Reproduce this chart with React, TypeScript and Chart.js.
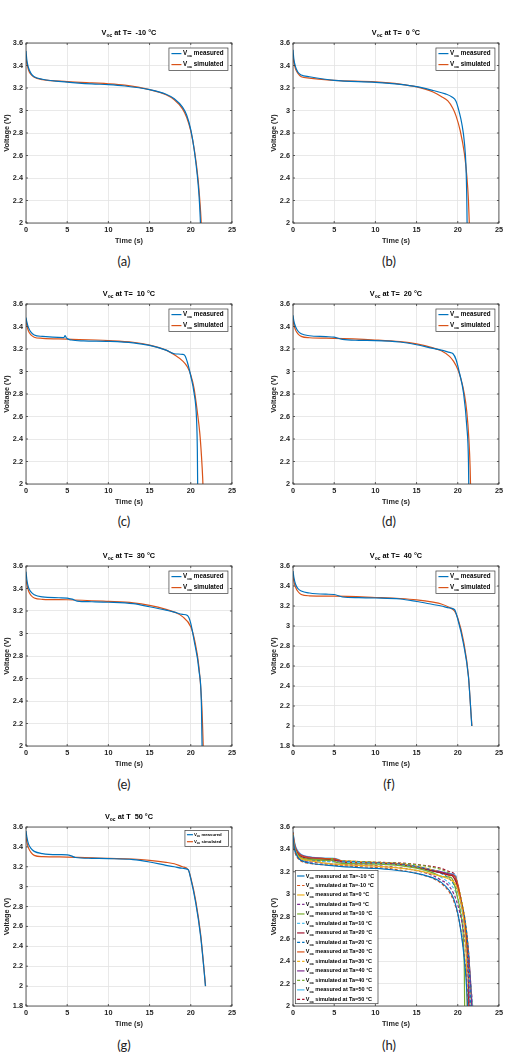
import React, { useEffect, useRef } from "react";
import { Chart, registerables } from "chart.js";

Chart.register(...registerables);

// ---- axis ticks ----
const timeTicks = [0, 5, 10, 15, 20, 25];
const voltTicks = [2, 2.2, 2.4, 2.6, 2.8, 3, 3.2, 3.4, 3.6];
const voltTicksLow = [1.8, 2, 2.2, 2.4, 2.6, 2.8, 3, 3.2, 3.4, 3.6];

// ---- T = -10 °C ----
const tMeasM10 = [0, 0.1, 0.3, 0.6, 1, 2, 5, 8, 10, 12, 15, 17, 18, 19, 19.5, 20, 20.4, 20.8, 21.0, 21.15, 21.25];
const vMeasM10 = [3.53, 3.45, 3.38, 3.33, 3.30, 3.278, 3.252, 3.236, 3.230, 3.218, 3.185, 3.145, 3.105, 3.03, 2.96, 2.83, 2.66, 2.42, 2.25, 2.05, 1.85];
const tSimM10 = [0, 0.1, 0.3, 0.6, 1, 2, 5, 8, 10, 12, 15, 17, 18, 19, 19.5, 20, 20.5, 20.9, 21.1, 21.25, 21.35];
const vSimM10 = [3.46, 3.42, 3.36, 3.32, 3.295, 3.275, 3.257, 3.245, 3.238, 3.225, 3.185, 3.14, 3.095, 3.015, 2.94, 2.82, 2.62, 2.38, 2.2, 2.03, 1.85];

// ---- T = 0 °C ----
const tMeas0 = [0, 0.1, 0.3, 0.6, 1, 2, 5, 10, 13, 15, 17, 18.5, 19.3, 19.8, 20.2, 20.5, 20.8, 21.0, 21.1, 21.15];
const vMeas0 = [3.54, 3.46, 3.39, 3.34, 3.315, 3.30, 3.268, 3.25, 3.232, 3.212, 3.178, 3.148, 3.12, 3.08, 2.98, 2.88, 2.72, 2.5, 2.2, 1.9];
const tSim0 = [0, 0.1, 0.3, 0.6, 1, 2, 5, 10, 13, 15, 17, 18, 18.8, 19.4, 19.8, 20.3, 20.8, 21.1, 21.3, 21.45];
const vSim0 = [3.47, 3.43, 3.37, 3.33, 3.30, 3.288, 3.268, 3.255, 3.235, 3.21, 3.165, 3.125, 3.085, 3.02, 2.95, 2.82, 2.62, 2.42, 2.2, 1.9];

// ---- T = 10 °C ----
const tMeas10 = [0, 0.1, 0.3, 0.6, 1, 2, 4.6, 4.75, 4.9, 5.5, 7, 10, 13, 15, 17, 18, 19, 19.3, 19.6, 20, 20.4, 20.7, 20.8, 20.85];
const vMeas10 = [3.48, 3.44, 3.39, 3.35, 3.325, 3.312, 3.302, 3.32, 3.298, 3.28, 3.272, 3.268, 3.255, 3.232, 3.19, 3.158, 3.152, 3.14, 3.08, 2.96, 2.81, 2.58, 2.3, 1.9];
const tSim10 = [0, 0.1, 0.3, 0.6, 1, 2, 5, 10, 13, 15, 17, 18, 19, 19.6, 20, 20.4, 20.8, 21.1, 21.3, 21.45, 21.55];
const vSim10 = [3.45, 3.41, 3.36, 3.325, 3.305, 3.295, 3.288, 3.275, 3.26, 3.235, 3.19, 3.15, 3.095, 3.04, 2.97, 2.85, 2.64, 2.45, 2.25, 2.05, 1.85];

// ---- T = 20 °C ----
const tMeas20 = [0, 0.1, 0.3, 0.6, 1, 2, 4, 5, 6, 8, 10, 13, 15, 17, 18, 19, 19.4, 19.8, 20.2, 20.7, 21.1, 21.3, 21.35];
const vMeas20 = [3.50, 3.45, 3.40, 3.36, 3.335, 3.318, 3.31, 3.305, 3.285, 3.277, 3.275, 3.262, 3.238, 3.205, 3.19, 3.17, 3.16, 3.105, 2.99, 2.81, 2.51, 2.2, 1.9];
const tSim20 = [0, 0.1, 0.3, 0.6, 1, 2, 5, 10, 13, 15, 17, 18, 19, 19.5, 20, 20.4, 20.8, 21.1, 21.35, 21.5, 21.58];
const vSim20 = [3.46, 3.42, 3.37, 3.335, 3.312, 3.30, 3.295, 3.28, 3.265, 3.245, 3.21, 3.185, 3.135, 3.09, 3.02, 2.93, 2.80, 2.64, 2.4, 2.15, 1.9];

// ---- T = 30 °C ----
const tMeas30 = [0, 0.1, 0.3, 0.6, 1, 2, 4, 5, 5.6, 6.2, 8, 10, 13, 15, 17, 18, 19, 19.6, 20, 20.4, 21.0, 21.3, 21.35, 21.4];
const vMeas30 = [3.55, 3.48, 3.41, 3.37, 3.345, 3.325, 3.318, 3.315, 3.305, 3.288, 3.282, 3.278, 3.265, 3.238, 3.208, 3.19, 3.17, 3.16, 3.09, 2.94, 2.67, 2.35, 2.1, 1.9];
const tSim30 = [0, 0.1, 0.3, 0.6, 1, 2, 5, 10, 13, 15, 17, 18, 19, 20, 20.5, 21, 21.3, 21.45, 21.55];
const vSim30 = [3.48, 3.44, 3.38, 3.34, 3.316, 3.304, 3.30, 3.285, 3.272, 3.25, 3.215, 3.19, 3.15, 3.06, 2.93, 2.70, 2.42, 2.15, 1.9];

// ---- T = 40 °C ----
const tMeas40 = [0, 0.1, 0.3, 0.6, 1, 2, 4, 5, 6, 8, 10, 13, 15, 17, 18, 19, 19.6, 20, 20.7, 21.3, 21.55, 21.7];
const vMeas40 = [3.55, 3.49, 3.42, 3.375, 3.35, 3.33, 3.318, 3.315, 3.29, 3.283, 3.28, 3.27, 3.245, 3.215, 3.2, 3.18, 3.165, 3.07, 2.82, 2.49, 2.2, 2.0];
const tSim40 = [0, 0.1, 0.3, 0.6, 1, 2, 5, 10, 13, 15, 17, 18, 19, 19.6, 20, 20.7, 21.3, 21.55, 21.72];
const vSim40 = [3.50, 3.45, 3.39, 3.345, 3.315, 3.302, 3.298, 3.285, 3.275, 3.262, 3.238, 3.22, 3.185, 3.15, 3.08, 2.85, 2.5, 2.2, 2.0];

// ---- T = 50 °C ----
const tMeas50 = [0, 0.1, 0.3, 0.6, 1, 2, 4, 5, 5.5, 6, 8, 10, 13, 15, 17, 18, 19, 19.7, 20, 20.6, 21.2, 21.6, 21.78];
const vMeas50 = [3.56, 3.50, 3.43, 3.385, 3.355, 3.333, 3.322, 3.32, 3.31, 3.293, 3.285, 3.282, 3.272, 3.248, 3.215, 3.2, 3.185, 3.17, 3.08, 2.84, 2.5, 2.17, 2.0];
const tSim50 = [0, 0.1, 0.3, 0.6, 1, 2, 5, 10, 13, 15, 17, 18, 19, 19.7, 20, 20.6, 21.2, 21.6, 21.8];
const vSim50 = [3.50, 3.45, 3.39, 3.345, 3.315, 3.302, 3.298, 3.285, 3.278, 3.265, 3.245, 3.23, 3.2, 3.17, 3.09, 2.86, 2.52, 2.18, 2.0];

// ---- series bookkeeping ----
const temps = ["-10", "0", "10", "20", "30", "40", "50"];
const measT = [tMeasM10, tMeas0, tMeas10, tMeas20, tMeas30, tMeas40, tMeas50];
const measV = [vMeasM10, vMeas0, vMeas10, vMeas20, vMeas30, vMeas40, vMeas50];
const simT = [tSimM10, tSim0, tSim10, tSim20, tSim30, tSim40, tSim50];
const simV = [vSimM10, vSim0, vSim10, vSim20, vSim30, vSim40, vSim50];

const BLUE = "#0072BD";
const ORANGE = "#D95319";
const comboColors = [
  "#0072BD", "#D95319", "#EDB120", "#7E2F8E", "#77AC30", "#4DBEEE", "#A2142F",
  "#0072BD", "#D95319", "#EDB120", "#7E2F8E", "#77AC30", "#4DBEEE", "#A2142F",
];

const FONT_FAMILY = '"Liberation Sans", Arial, Helvetica, sans-serif';
const AXIS_W = 26;
const AXIS_H = 26;
const PAD_TOP = 22;
const PAD_RIGHT = 6;

type Curve = { t: number[]; v: number[]; color: string; dash: number[]; label: string };
type LegendKind = "pair" | "small" | "full";

type PanelSpec = {
  left: number;
  top: number;
  w: number;
  h: number;
  yTicks: number[];
  title: string | null;
  legend: LegendKind;
  caption: string;
  curves: Curve[];
};

function pairCurves(i: number): Curve[] {
  return [
    { t: measT[i], v: measV[i], color: BLUE, dash: [], label: " measured" },
    { t: simT[i], v: simV[i], color: ORANGE, dash: [], label: " simulated" },
  ];
}

function comboCurves(): Curve[] {
  const out: Curve[] = [];
  temps.forEach((tc, i) => {
    out.push({ t: measT[i], v: measV[i], color: comboColors[2 * i], dash: [], label: ` measured at Ta=${tc} °C` });
    out.push({ t: simT[i], v: simV[i], color: comboColors[2 * i + 1], dash: [3, 2], label: ` simulated at Ta=${tc} °C` });
  });
  return out;
}

const colX = [26, 293];
const rowY = [43, 304, 566, 827];
const PW = 207;

const panels: PanelSpec[] = [
  { left: colX[0], top: rowY[0], w: PW, h: 180, yTicks: voltTicks, title: " at T=  -10 °C", legend: "pair", caption: "(a)", curves: pairCurves(0) },
  { left: colX[1], top: rowY[0], w: PW, h: 180, yTicks: voltTicks, title: " at T=  0 °C", legend: "pair", caption: "(b)", curves: pairCurves(1) },
  { left: colX[0], top: rowY[1], w: PW, h: 180, yTicks: voltTicks, title: " at T=  10 °C", legend: "pair", caption: "(c)", curves: pairCurves(2) },
  { left: colX[1], top: rowY[1], w: PW, h: 180, yTicks: voltTicks, title: " at T=  20 °C", legend: "pair", caption: "(d)", curves: pairCurves(3) },
  { left: colX[0], top: rowY[2], w: PW, h: 180, yTicks: voltTicks, title: " at T=  30 °C", legend: "pair", caption: "(e)", curves: pairCurves(4) },
  { left: colX[1], top: rowY[2], w: PW, h: 180, yTicks: voltTicksLow, title: " at T=  40 °C", legend: "pair", caption: "(f)", curves: pairCurves(5) },
  { left: colX[0], top: rowY[3], w: PW, h: 179, yTicks: voltTicksLow, title: " at T  50 °C", legend: "small", caption: "(g)", curves: pairCurves(6) },
  { left: colX[1], top: rowY[3], w: PW, h: 179, yTicks: voltTicks, title: null, legend: "full", caption: "(h)", curves: comboCurves() },
];

const captionX = [124, 389];

// "V" with an "oc" subscript followed by the rest of the string
function drawVoc(ctx: CanvasRenderingContext2D, x: number, y: number, size: number, rest: string, align: "left" | "center", color: string) {
  const main = `bold ${size}px ${FONT_FAMILY}`;
  const sub = `bold ${size * 0.68}px ${FONT_FAMILY}`;
  ctx.font = main;
  const wV = ctx.measureText("V").width;
  const wRest = ctx.measureText(rest).width;
  ctx.font = sub;
  const wSub = ctx.measureText("oc").width;
  const total = wV + wSub + wRest;
  const x0 = align === "center" ? x - total / 2 : x;
  ctx.fillStyle = color;
  ctx.textAlign = "left";
  ctx.textBaseline = "middle";
  ctx.font = main;
  ctx.fillText("V", x0, y);
  ctx.font = sub;
  ctx.fillText("oc", x0 + wV, y + size * 0.4);
  ctx.font = main;
  ctx.fillText(rest, x0 + wV + wSub, y);
}

function makeDecor(spec: PanelSpec) {
  return {
    id: "decor",
    afterDraw(chart: any) {
      const ctx: CanvasRenderingContext2D = chart.ctx;
      const a = chart.chartArea;
      const xs = chart.scales.x;
      const ys = chart.scales.y;
      ctx.save();

      // axes box with inward tick marks
      ctx.strokeStyle = "#3a3a3a";
      ctx.lineWidth = 0.8;
      ctx.strokeRect(a.left, a.top, a.right - a.left, a.bottom - a.top);
      ctx.beginPath();
      timeTicks.forEach((v) => {
        const px = xs.getPixelForValue(v);
        ctx.moveTo(px, a.bottom);
        ctx.lineTo(px, a.bottom - 2);
        ctx.moveTo(px, a.top);
        ctx.lineTo(px, a.top + 2);
      });
      spec.yTicks.forEach((v) => {
        const py = ys.getPixelForValue(v);
        ctx.moveTo(a.left, py);
        ctx.lineTo(a.left + 2, py);
        ctx.moveTo(a.right, py);
        ctx.lineTo(a.right - 2, py);
      });
      ctx.stroke();

      const cx = (a.left + a.right) / 2;
      const cy = (a.top + a.bottom) / 2;

      // title
      if (spec.title) drawVoc(ctx, cx, a.top - 10, 7.3, spec.title, "center", "#000");

      // axis titles
      ctx.fillStyle = "#262626";
      ctx.font = `bold 7.3px ${FONT_FAMILY}`;
      ctx.textAlign = "center";
      ctx.textBaseline = "middle";
      ctx.fillText("Time (s)", cx, a.bottom + 17.5);
      ctx.save();
      ctx.translate(a.left - 19, cy);
      ctx.rotate(-Math.PI / 2);
      ctx.fillText("Voltage (V)", 0, 0);
      ctx.restore();

      // legend
      let bx = 0, by = 0, bw = 0, bh = 0, size = 6.3, row0 = 0, step = 0, l0 = 0, l1 = 0, tx = 0;
      if (spec.legend === "pair") {
        bw = 59; bh = 22.5; bx = a.right - 4 - bw; by = a.top + 5;
        size = 6.3; row0 = 5.6; step = 11; l0 = 2.5; l1 = 12.5; tx = 14;
      } else if (spec.legend === "small") {
        bw = 43.5; bh = 16; bx = a.right - 3.5 - bw; by = a.top + 3.4;
        size = 4.3; row0 = 4.3; step = 7; l0 = 2; l1 = 8; tx = 9;
      } else {
        bw = 82.7; bh = 133.3; bx = a.left + 2.3; by = a.top + 43.4;
        size = 5.5; row0 = 5.6; step = 9.49; l0 = 1.8; l1 = 9.2; tx = 10.5;
      }
      ctx.fillStyle = "#ffffff";
      ctx.fillRect(bx, by, bw, bh);
      ctx.strokeStyle = "#3a3a3a";
      ctx.lineWidth = 0.7;
      ctx.strokeRect(bx, by, bw, bh);
      spec.curves.forEach((c, i) => {
        const ry = by + row0 + i * step;
        ctx.strokeStyle = c.color;
        ctx.lineWidth = 1.2;
        ctx.setLineDash(c.dash);
        ctx.beginPath();
        ctx.moveTo(bx + l0, ry);
        ctx.lineTo(bx + l1, ry);
        ctx.stroke();
        ctx.setLineDash([]);
        drawVoc(ctx, bx + tx, ry, size, c.label, "left", "#000");
      });

      ctx.restore();
    },
  };
}

function Panel({ spec }: { spec: PanelSpec }) {
  const ref = useRef<HTMLCanvasElement | null>(null);
  const cw = AXIS_W + spec.w + PAD_RIGHT;
  const ch = PAD_TOP + spec.h + AXIS_H;

  useEffect(() => {
    if (!ref.current) return;
    const tickFont = { family: FONT_FAMILY, size: 7.3, weight: "bold" as const };
    const chart = new Chart(ref.current, {
      type: "line",
      data: {
        datasets: spec.curves.map((c) => ({
          label: c.label,
          data: c.t.map((x, i) => ({ x, y: c.v[i] })),
          borderColor: c.color,
          borderWidth: 1.2,
          borderDash: c.dash,
          pointRadius: 0,
          fill: false,
          cubicInterpolationMode: "monotone" as const,
        })),
      },
      options: {
        responsive: false,
        animation: false,
        events: [],
        layout: { padding: { left: 0, top: PAD_TOP, right: PAD_RIGHT, bottom: 0 } },
        plugins: { legend: { display: false }, tooltip: { enabled: false }, title: { display: false } },
        scales: {
          x: {
            type: "linear",
            min: 0,
            max: 25,
            afterBuildTicks: (s: any) => {
              s.ticks = timeTicks.map((value) => ({ value }));
            },
            afterFit: (s: any) => {
              s.height = AXIS_H;
            },
            ticks: { font: tickFont, color: "#262626", padding: 3, maxRotation: 0, autoSkip: false, callback: (v: any) => String(v) },
            grid: { color: "#e3e3e3", lineWidth: 0.8, drawTicks: false },
            border: { display: false },
          },
          y: {
            type: "linear",
            min: spec.yTicks[0],
            max: 3.6,
            afterBuildTicks: (s: any) => {
              s.ticks = spec.yTicks.map((value) => ({ value }));
            },
            afterFit: (s: any) => {
              s.width = AXIS_W;
            },
            ticks: { font: tickFont, color: "#262626", padding: 3, autoSkip: false, callback: (v: any) => String(Number(Number(v).toFixed(2))) },
            grid: { color: "#e3e3e3", lineWidth: 0.8, drawTicks: false },
            border: { display: false },
          },
        },
      },
      plugins: [makeDecor(spec)],
    } as any);
    return () => chart.destroy();
  }, [spec]);

  return (
    <canvas
      ref={ref}
      width={cw}
      height={ch}
      style={{ position: "absolute", left: spec.left - AXIS_W, top: spec.top - PAD_TOP, width: cw, height: ch }}
    />
  );
}

export default function App() {
  const captionY = [261, 521, 784, 1045];
  return (
    <div style={{ position: "absolute", left: 0, top: 0, width: 507, height: 1058, overflow: "hidden", background: "#fff" }}>
      {panels.map((p, i) => (
        <Panel key={i} spec={p} />
      ))}
      {panels.map((p, i) => (
        <div
          key={"c" + i}
          style={{
            position: "absolute",
            left: captionX[i % 2] - 20,
            top: captionY[Math.floor(i / 2)] - 9,
            width: 40,
            height: 18,
            lineHeight: "18px",
            textAlign: "center",
            fontFamily: "Lato, 'Open Sans', sans-serif",
            fontSize: 13,
            color: "#222",
          }}
        >
          {p.caption}
        </div>
      ))}
    </div>
  );
}
